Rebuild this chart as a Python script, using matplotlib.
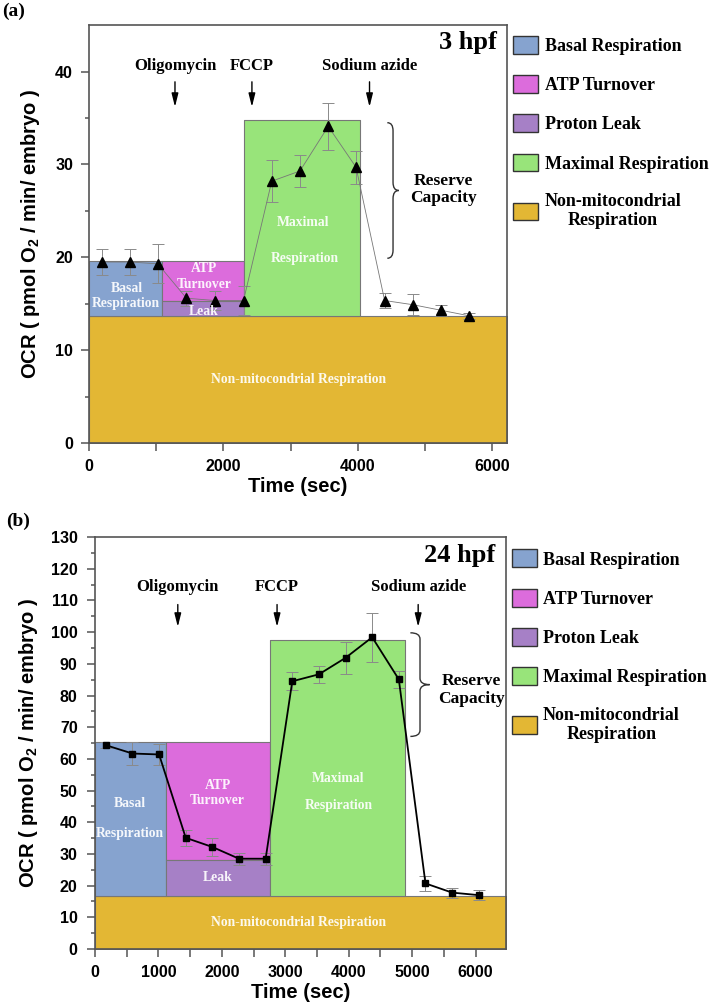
import numpy as np
import matplotlib
matplotlib.use("Agg")
import matplotlib.pyplot as plt
from matplotlib.patches import Patch, PathPatch
from matplotlib.path import Path

# ------------------------------
# data
# ------------------------------
# panel (a) : 3 hpf
a_time = [190, 610, 1025, 1450, 1875, 2300, 2720, 3140, 3560, 3975, 4400, 4820, 5240, 5660]
a_ocr = [19.5, 19.5, 19.3, 15.6, 15.35, 15.35, 28.2, 29.3, 34.1, 29.7, 15.35, 14.9, 14.3, 13.7]
a_err = [1.45, 1.45, 2.1, 0.8, 1.0, 1.6, 2.25, 1.7, 2.5, 1.8, 0.8, 1.15, 0.6, 0.3]
a_edges = [0, 1090, 2310, 4040]      # basal | oligomycin | FCCP end
a_levels = [13.7, 15.3, 19.6, 34.8]  # non-mito, leak top, basal top, maximal top
a_inject = [1280, 2425, 4175]

# panel (b) : 24 hpf
b_time = [175, 590, 1010, 1430, 1850, 2270, 2690, 3110, 3530, 3950, 4370, 4790, 5210, 5630, 6050]
b_ocr = [64.3, 61.7, 61.4, 35.1, 32.2, 28.5, 28.5, 84.5, 86.7, 91.9, 98.4, 85.1, 20.7, 17.8, 17.0]
b_err = [1.0, 3.7, 3.2, 2.5, 2.7, 1.9, 1.9, 2.9, 2.6, 5.1, 7.7, 2.7, 2.4, 1.6, 1.6]
b_edges = [0, 1115, 2758, 4885]
b_levels = [16.7, 28.2, 65.4, 97.6]
b_inject = [1305, 2870, 5095]

inject_names = ["Oligomycin", "FCCP", "Sodium azide"]
legend_names = ["Basal Respiration", "ATP Turnover", "Proton Leak",
                "Maximal Respiration", "Non-mitocondrial\nRespiration"]
colors = ["#86a3cf", "#dc6cdc", "#a680c6", "#98e47a", "#e3b734"]

SERIF = "Liberation Serif"
SANS = "Liberation Sans"
plt.rcParams["mathtext.fontset"] = "custom"
plt.rcParams["mathtext.bf"] = "Liberation Sans:bold"
plt.rcParams["mathtext.rm"] = "Liberation Sans:bold"


def brace(ax, x0, x1, ytop, ybot):
    """right facing curly brace drawn in data coords"""
    xm = (x0 + x1) / 2
    ymid = (ytop + ybot) / 2
    r = (ytop - ybot) * 0.06
    verts = [(x0, ytop), (xm, ytop), (xm, ytop - r),
             (xm, ymid + r), (xm, ymid), (x1, ymid),
             (xm, ymid), (xm, ymid - r),
             (xm, ybot + r), (xm, ybot), (x0, ybot)]
    codes = [Path.MOVETO, Path.CURVE3, Path.CURVE3,
             Path.LINETO, Path.CURVE3, Path.CURVE3,
             Path.CURVE3, Path.CURVE3,
             Path.LINETO, Path.CURVE3, Path.CURVE3]
    ax.add_patch(PathPatch(Path(verts, codes), fill=False, ec="#333333", lw=1.0, zorder=5))


def draw_panel(ax, t, ocr, err, edges, levels, inject, opts):
    xmax = opts["xmax"]
    non, leak, basal, maxi = levels
    e0, e1, e2, e3 = edges
    edge_kw = dict(edgecolor="#777777", linewidth=0.8)
    ax.fill_between([0, xmax], 0, non, facecolor=colors[4], zorder=1, **edge_kw)
    ax.fill_between([e0, e1], non, basal, facecolor=colors[0], zorder=1, **edge_kw)
    ax.fill_between([e1, e2], leak, basal, facecolor=colors[1], zorder=1, **edge_kw)
    ax.fill_between([e1, e2], non, leak, facecolor=colors[2], zorder=1, **edge_kw)
    ax.fill_between([e2, e3], non, maxi, facecolor=colors[3], zorder=1, **edge_kw)

    # region labels
    lab = dict(color="white", alpha=0.92, fontsize=9.8, fontweight="bold",
               family=SERIF, ha="center", va="center", zorder=6)
    for txt, x, y in opts["labels"]:
        ax.text(x, y, txt, **lab)

    # measured OCR
    ax.errorbar(t, ocr, yerr=err, fmt="none", ecolor="#8a8a8a", elinewidth=0.7,
                capsize=opts["cap"], capthick=0.7, zorder=3)
    ax.plot(t, ocr, color=opts["lc"], lw=opts["lw"], marker=opts["marker"],
            ms=opts["ms"], mfc="black", mec="black", zorder=4)

    # injections
    for name, x in zip(inject_names, inject):
        ax.text(x, opts["name_y"], name, ha="center", va="center", fontsize=12,
                fontweight="bold", family=SERIF)
        ax.annotate("", xy=(x, opts["arr"][1]), xytext=(x, opts["arr"][0]),
                    arrowprops=dict(arrowstyle="-|>,head_width=0.2,head_length=0.8",
                                    color="black", lw=1.0))

    bx0, bx1, byt, byb = opts["brace"]
    brace(ax, bx0, bx1, byt, byb)
    ax.text(opts["rc"][0], opts["rc"][1], "Reserve\nCapacity", ha="center", va="center",
            fontsize=12.5, fontweight="bold", family=SERIF, linespacing=1.15)

    ax.text(0.975, opts["hpf_y"], opts["hpf"], transform=ax.transAxes, ha="right",
            va="center", fontsize=19, fontweight="bold", family=SERIF)

    ax.set_xlim(0, xmax)
    ax.set_ylim(0, opts["ymax"])
    ax.set_xticks(opts["xt"])
    ax.set_xticks(opts["xtm"], minor=True)
    ax.set_yticks(opts["yt"])
    ax.set_yticks(opts["ytm"], minor=True)
    ax.tick_params(which="both", direction="out", color="#555555", width=1.1)
    ax.tick_params(which="major", length=5.5, labelsize=11.5)
    ax.tick_params(axis="x", which="major", pad=6)
    ax.tick_params(axis="y", which="major", pad=opts["ypad"])
    ax.tick_params(axis="y", which="minor", length=3)
    ax.tick_params(axis="x", which="minor", length=5.5)
    for lb in ax.get_xticklabels() + ax.get_yticklabels():
        lb.set_fontweight("bold")
        lb.set_family(SANS)
    for sp in ax.spines.values():
        sp.set_color("#555555")
        sp.set_linewidth(1.2)
    ax.set_xlabel("Time (sec)", fontsize=14.5, fontweight="bold", family=SANS, labelpad=2)
    ax.set_ylabel(r"OCR ( pmol O$_\mathbf{2}$ / min/ embryo )", fontsize=14.5,
                  fontweight="bold", family=SANS, labelpad=opts["ylpad"])

    handles = [Patch(facecolor=c, edgecolor="#333333", linewidth=1.0) for c in colors]
    leg = ax.legend(handles, legend_names, loc="upper left", bbox_to_anchor=opts["leg"],
                    frameon=False, borderaxespad=0, borderpad=0, handlelength=1.4,
                    handleheight=1.15, handletextpad=0.35, labelspacing=1.12,
                    prop=dict(family=SERIF, weight="bold", size=13))
    for tx in leg.get_texts():
        tx.set_multialignment("center")


fig = plt.figure(figsize=(7.14, 10.07), dpi=100)
ax1 = fig.add_axes([0.1246, 0.560, 0.5854, 0.415])
ax2 = fig.add_axes([0.1331, 0.0576, 0.5756, 0.409])

draw_panel(ax1, a_time, a_ocr, a_err, a_edges, a_levels, a_inject, dict(
    xmax=6220, ymax=45, xt=[0, 2000, 4000, 6000], xtm=[1000, 3000, 5000],
    yt=[0, 10, 20, 30, 40], ytm=[5, 15, 25, 35],
    labels=[("Basal", 560, 16.6), ("Respiration", 556, 15.0),
            ("ATP", 1712, 18.8), ("Turnover", 1712, 17.1), ("Leak", 1712, 14.2),
            ("Maximal", 3190, 23.8), ("Respiration", 3205, 19.9),
            ("Non-mitocondrial Respiration", 3115, 6.9)],
    lc="#777777", lw=0.6, marker="^", ms=7.5, cap=4,
    name_y=40.6, arr=(39.2, 35.9), brace=(4440, 4610, 34.5, 19.9), rc=(5275, 27.3),
    hpf="3 hpf", hpf_y=0.959, ylpad=9.5, ypad=6, leg=(1.0144, 0.975)))

draw_panel(ax2, b_time, b_ocr, b_err, b_edges, b_levels, b_inject, dict(
    xmax=6480, ymax=130, xt=list(range(0, 7000, 1000)), xtm=list(range(500, 6500, 1000)),
    yt=list(range(0, 140, 10)), ytm=list(range(5, 130, 10)),
    labels=[("Basal", 551, 45.8), ("Respiration", 551, 36.5),
            ("ATP", 1932, 51.7), ("Turnover", 1932, 47.0), ("Leak", 1932, 22.5),
            ("Maximal", 3832, 53.9), ("Respiration", 3850, 45.4),
            ("Non-mitocondrial Respiration", 3213, 8.4)],
    lc="black", lw=1.3, marker="s", ms=5, cap=4,
    name_y=114.2, arr=(109.6, 100.8), brace=(4972, 5276, 99.8, 67.1), rc=(5942, 81.7),
    hpf="24 hpf", hpf_y=0.955, ylpad=8, ypad=7, leg=(1.0134, 0.97)))

fig.text(0.003, 0.997, "(a)", ha="left", va="top", fontsize=14, fontweight="bold", family=SERIF)
fig.text(0.008, 0.491, "(b)", ha="left", va="top", fontsize=14, fontweight="bold", family=SERIF)

fig.savefig("out.png", dpi=100)
